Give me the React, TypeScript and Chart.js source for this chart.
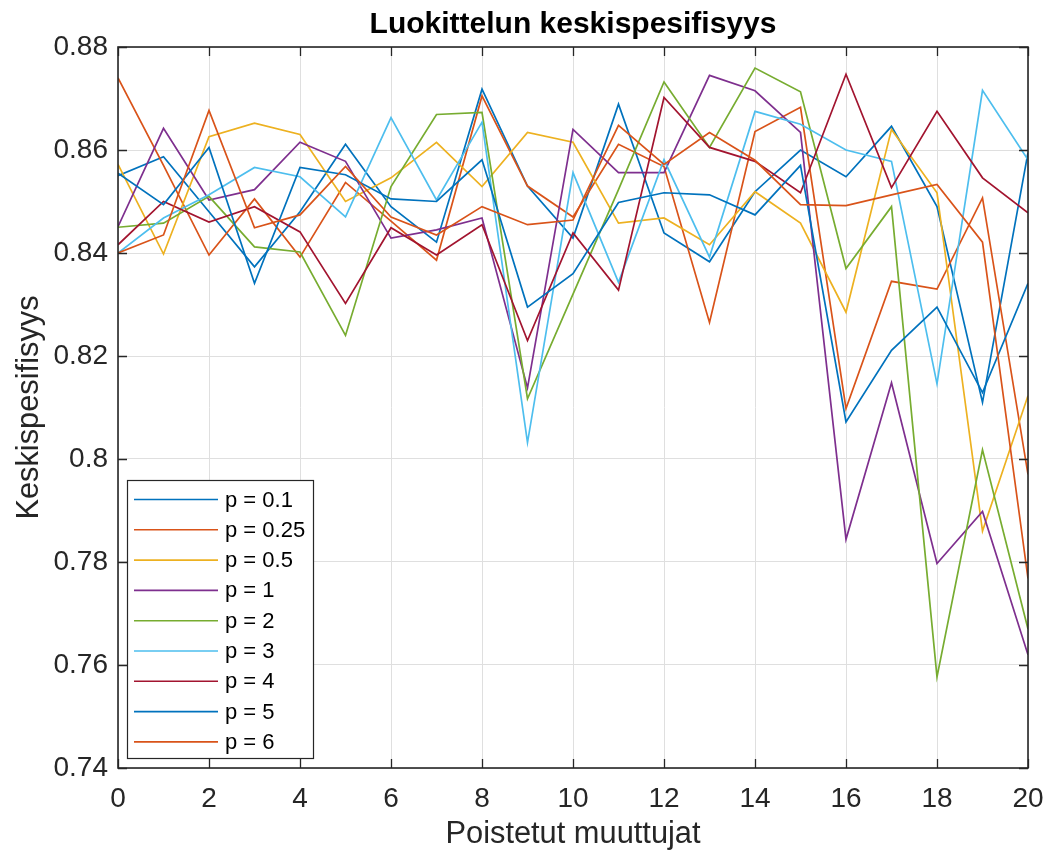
import React, { useEffect, useRef } from "react";
import { Chart, registerables } from "chart.js";

Chart.register(...registerables);

const xValues = [0, 1, 2, 3, 4, 5, 6, 7, 8, 9, 10, 11, 12, 13, 14, 15, 16, 17, 18, 19, 20];
const xTicks = [0, 2, 4, 6, 8, 10, 12, 14, 16, 18, 20];
const xTickLabels = ["0", "2", "4", "6", "8", "10", "12", "14", "16", "18", "20"];
const yTicks = [0.74, 0.76, 0.78, 0.8, 0.82, 0.84, 0.86, 0.88];
const yTickLabels = ["0.74", "0.76", "0.78", "0.8", "0.82", "0.84", "0.86", "0.88"];

const seriesLabels = ["p = 0.1", "p = 0.25", "p = 0.5", "p = 1", "p = 2", "p = 3", "p = 4", "p = 5", "p = 6"];
const seriesColors = ["#0072BD", "#D95319", "#EDB120", "#7E2F8E", "#77AC30", "#4DBEEE", "#A2142F", "#0072BD", "#D95319"];

const p01 = [0.855, 0.8587, 0.848, 0.8373, 0.848, 0.8611, 0.849, 0.8421, 0.8718, 0.853, 0.8429, 0.8689, 0.8439, 0.8383, 0.8519, 0.86, 0.8548, 0.8646, 0.849, 0.811, 0.8595];
const p025 = [0.874, 0.857, 0.8396, 0.8505, 0.8392, 0.8537, 0.8462, 0.8386, 0.8705, 0.853, 0.847, 0.8611, 0.8568, 0.8265, 0.8636, 0.8683, 0.8098, 0.8345, 0.833, 0.8507, 0.797];
const p05 = [0.8572, 0.8398, 0.8626, 0.8652, 0.863, 0.85, 0.8546, 0.8615, 0.8529, 0.8634, 0.8615, 0.8458, 0.8468, 0.8416, 0.8519, 0.8458, 0.8285, 0.864, 0.8517, 0.786, 0.8123];
const p1 = [0.8451, 0.8642, 0.8503, 0.8523, 0.8615, 0.8578, 0.8429, 0.8445, 0.8468, 0.8138, 0.864, 0.8556, 0.8556, 0.8745, 0.8715, 0.8634, 0.7844, 0.8148, 0.7797, 0.7898, 0.762];
const p2 = [0.845, 0.8458, 0.851, 0.8412, 0.8402, 0.824, 0.8529, 0.8669, 0.8673, 0.8117, 0.832, 0.8523, 0.8732, 0.8605, 0.8759, 0.8713, 0.837, 0.849, 0.7577, 0.8018, 0.767];
const p3 = [0.84, 0.8468, 0.8513, 0.8566, 0.8548, 0.847, 0.8663, 0.8503, 0.8654, 0.8032, 0.8556, 0.8343, 0.8581, 0.8392, 0.8675, 0.865, 0.86, 0.8578, 0.8146, 0.8716, 0.8581];
const p4 = [0.8416, 0.85, 0.846, 0.849, 0.8441, 0.8302, 0.8449, 0.8396, 0.8455, 0.823, 0.8439, 0.8328, 0.8702, 0.8605, 0.8578, 0.8517, 0.8747, 0.8527, 0.8675, 0.8546, 0.8478];
const p5 = [0.8555, 0.8494, 0.8605, 0.8341, 0.8566, 0.8552, 0.8505, 0.85, 0.8581, 0.8295, 0.836, 0.8498, 0.8517, 0.8513, 0.8474, 0.857, 0.8072, 0.8211, 0.8295, 0.8129, 0.8341];
const p6 = [0.84, 0.8435, 0.8677, 0.8449, 0.8474, 0.8568, 0.847, 0.8435, 0.849, 0.8455, 0.8464, 0.8648, 0.8572, 0.8634, 0.858, 0.8494, 0.8492, 0.8513, 0.8533, 0.8421, 0.7768];

const seriesValues = [p01, p025, p05, p1, p2, p3, p4, p5, p6];

const FONT = '"Liberation Sans", Arial, Helvetica, sans-serif';
const AXIS_COLOR = "#262626";

const framePlugin = {
  id: "matlabFrame",
  afterDatasetsDraw(chart: any) {
    const { ctx, chartArea: a, scales } = chart;
    ctx.save();
    const tl = 9;
    ctx.strokeStyle = AXIS_COLOR;
    ctx.lineWidth = 1.3;
    ctx.beginPath();
    xTicks.forEach((v) => {
      const px = Math.round(scales.x.getPixelForValue(v)) + 0.5;
      ctx.moveTo(px, a.bottom);
      ctx.lineTo(px, a.bottom - tl);
      ctx.moveTo(px, a.top);
      ctx.lineTo(px, a.top + tl);
    });
    yTicks.forEach((v) => {
      const py = Math.round(scales.y.getPixelForValue(v)) + 0.5;
      ctx.moveTo(a.left, py);
      ctx.lineTo(a.left + tl, py);
      ctx.moveTo(a.right, py);
      ctx.lineTo(a.right - tl, py);
    });
    ctx.stroke();
    ctx.lineWidth = 1.6;
    ctx.strokeRect(a.left, a.top, a.right - a.left, a.bottom - a.top);

    // legend
    const bx = a.left + 9;
    const by = a.bottom - 288;
    const bw = 186;
    const bh = 278;
    ctx.fillStyle = "#ffffff";
    ctx.fillRect(bx, by, bw, bh);
    ctx.lineWidth = 1.2;
    ctx.strokeStyle = AXIS_COLOR;
    ctx.strokeRect(bx + 0.5, by + 0.5, bw, bh);
    ctx.font = `22px ${FONT}`;
    ctx.textBaseline = "middle";
    ctx.textAlign = "left";
    chart.data.datasets.forEach((ds: any, i: number) => {
      const ry = by + 19.5 + i * 30.3;
      ctx.strokeStyle = ds.borderColor;
      ctx.lineWidth = 1.6;
      ctx.beginPath();
      ctx.moveTo(bx + 7, ry);
      ctx.lineTo(bx + 91, ry);
      ctx.stroke();
      ctx.fillStyle = "#000000";
      ctx.fillText(ds.label, bx + 98, ry + 1);
    });
    ctx.restore();
  },
};

export default function App() {
  const canvasRef = useRef<HTMLCanvasElement | null>(null);

  useEffect(() => {
    if (!canvasRef.current) return;
    const datasets = seriesValues.map((vals, i) => ({
      label: seriesLabels[i],
      data: vals.map((v, j) => ({ x: xValues[j], y: v })),
      borderColor: seriesColors[i],
      backgroundColor: seriesColors[i],
      borderWidth: 1.7,
      pointRadius: 0,
      tension: 0,
      fill: false,
      order: -i,
    }));

    const chart = new Chart(canvasRef.current, {
      type: "line",
      data: { datasets },
      options: {
        responsive: false,
        animation: false,
        events: [],
        layout: { padding: { left: 0, right: 19, top: 0, bottom: 0 } },
        plugins: {
          legend: { display: false },
          tooltip: { enabled: false },
          title: {
            display: true,
            text: "Luokittelun keskispesifisyys",
            fullSize: false,
            color: "#000000",
            font: { family: FONT, size: 30, weight: "bold", lineHeight: 1.2 },
            padding: { top: 7, bottom: 4 },
          },
        },
        scales: {
          x: {
            type: "linear",
            min: 0,
            max: 20,
            afterBuildTicks: (s: any) => {
              s.ticks = xTicks.map((v) => ({ value: v }));
            },
            afterFit: (s: any) => {
              s.height = 86;
              s.paddingLeft = 0;
              s.paddingRight = 0;
            },
            ticks: {
              color: AXIS_COLOR,
              font: { family: FONT, size: 28 },
              padding: 14,
              maxRotation: 0,
              autoSkip: false,
              callback: (_v: any, idx: number) => xTickLabels[idx],
            },
            grid: { color: "#DFDFDF", lineWidth: 1, drawTicks: false },
            border: { display: false },
            title: {
              display: true,
              text: "Poistetut muuttujat",
              color: AXIS_COLOR,
              font: { family: FONT, size: 30.8, lineHeight: 1.2 },
              padding: { top: 0, bottom: 1.5 },
            },
          },
          y: {
            type: "linear",
            min: 0.74,
            max: 0.88,
            afterBuildTicks: (s: any) => {
              s.ticks = yTicks.map((v) => ({ value: v }));
            },
            afterFit: (s: any) => {
              s.width = 118;
              s.paddingTop = 0;
              s.paddingBottom = 0;
            },
            ticks: {
              color: AXIS_COLOR,
              font: { family: FONT, size: 28 },
              padding: 10,
              autoSkip: false,
              callback: (_v: any, idx: number) => yTickLabels[idx],
            },
            grid: { color: "#DFDFDF", lineWidth: 1, drawTicks: false },
            border: { display: false },
            title: {
              display: true,
              text: "Keskispesifisyys",
              color: AXIS_COLOR,
              font: { family: FONT, size: 30.8, lineHeight: 1.2 },
              padding: { top: 11, bottom: 0 },
            },
          },
        },
      },
      plugins: [framePlugin],
    } as any);

    return () => {
      chart.destroy();
    };
  }, []);

  return (
    <div style={{ position: "fixed", left: 0, top: 0, width: 1047, height: 854, background: "#ffffff" }}>
      <canvas ref={canvasRef} width={1047} height={854} style={{ display: "block" }} />
    </div>
  );
}
